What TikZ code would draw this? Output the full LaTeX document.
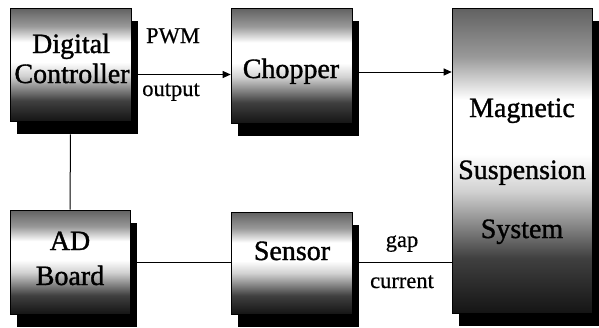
\documentclass[tikz,border=0pt]{standalone}
\usepackage{fontspec}
\setmainfont{Liberation Serif}
\newfontfamily\boxfont[FakeBold=1.2]{Liberation Serif}
\newfontfamily\labfont[FakeBold=0.6]{Liberation Serif}
\usetikzlibrary{arrows.meta,shadows}
\pgfdeclareverticalshading{scanshade}{100bp}{color(0bp)=(black!92); color(25bp)=(black!92); color(34bp)=(black!75); color(45bp)=(black!18); color(51bp)=(white); color(60bp)=(white); color(67bp)=(black!40); color(75bp)=(black!62); color(100bp)=(black!62)}
\begin{document}
\begin{tikzpicture}[x=1pt,y=-1pt,
  blk/.style={draw=black, line width=0.6pt, shading=scanshade, inner sep=0pt,
    drop shadow={shadow xshift=7pt, shadow yshift=-13pt, fill=black, opacity=1}},
  big/.style={font=\boxfont\fontsize{28}{30}\selectfont, anchor=base, inner sep=0pt},
  small/.style={font=\labfont\fontsize{22.5}{26}\selectfont, anchor=base, inner sep=0pt},
  conn/.style={line width=1pt, draw=black},
  arr/.style={conn, -{Triangle[length=8pt,width=7pt]}}]
\useasboundingbox (0,0) rectangle (599,327);
\fill[white] (0,0) rectangle (599,327);
% boxes
\node[blk, minimum width=121pt, minimum height=113pt] (dc)   at (70.5,64.5) {};
\node[blk, minimum width=121pt, minimum height=115pt] (chop) at (291.5,65.5) {};
\node[blk, minimum width=120pt, minimum height=104pt] (ad)   at (70,262) {};
\node[blk, minimum width=121pt, minimum height=102pt] (sens) at (291.5,263) {};
\node[blk, minimum width=140pt, minimum height=305pt] (mss)  at (522,160.5) {};
% texts
\node[big] (t1) at (71,53) {Digital};
\node[big] (t2) at (72,83) {Controller};
\node[big] (t3) at (291,78) {Chopper};
\node[big] (t4) at (70,250) {AD};
\node[big] (t5) at (70,285) {Board};
\node[big] (t6) at (292,260) {Sensor};
\node[big] (t7) at (522,117) {Magnetic};
\node[big] (t8) at (522,179) {Suspension};
\node[big] (t9) at (522,238) {System};
\node[small] (l1) at (173,43) {PWM};
\node[small] (l2) at (171,96) {output};
\node[small] (l3) at (402,247) {gap};
\node[small] (l4) at (402,288) {current};
% connector end points
\coordinate (c1) at ([xshift=7pt,yshift=-6.5pt]chop.east);
\coordinate (c2) at ([xshift=7pt,yshift=1pt]sens.east);
% connectors
\draw[arr] ([xshift=7pt,yshift=-10pt]dc.east) -- ([yshift=-9pt]chop.west);
\draw[arr] (c1) -- (mss.west |- c1);
\draw[conn] ([yshift=-13pt]dc.south) -- (ad.north);
\draw[conn] ([xshift=7pt]ad.east) -- (sens.west |- ad.east);
\draw[conn] (c2) -- (mss.west |- c2);
\end{tikzpicture}
\end{document}
